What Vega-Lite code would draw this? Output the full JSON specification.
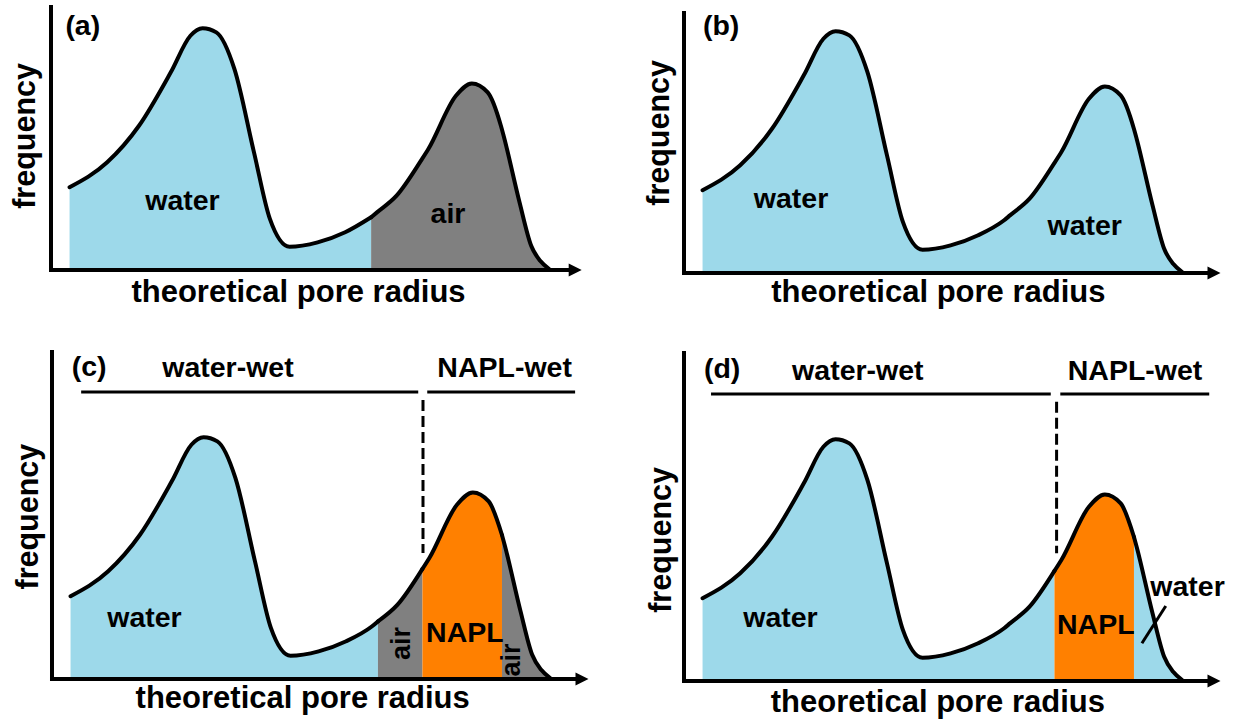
{
"$schema": "https://vega.github.io/schema/vega-lite/v6.json",
"background": "white",
"padding": 0,
"config": {"view": {"stroke": null}, "concat": {"spacing": 0}, "text": {"font": "Liberation Sans", "fontWeight": "bold", "color": "black", "align": "center", "baseline": "alphabetic"}},
"datasets": {
"ca": [
{"r":3.5,"f":34.2,"s":"a1","ph":"water"},{"r":10.6,"f":44.5,"s":"a1","ph":"water"},{"r":16.6,"f":59.6,"s":"a1","ph":"water"},{"r":22.6,"f":81.7,"s":"a1","ph":"water"},{"r":26.3,"f":96.8,"s":"a1","ph":"water"},{"r":28.6,"f":99.9,"s":"a1","ph":"water"},{"r":31.2,"f":98.2,"s":"a1","ph":"water"},{"r":34.6,"f":83.1,"s":"a1","ph":"water"},{"r":38.3,"f":48.6,"s":"a1","ph":"water"},{"r":41.3,"f":21.1,"s":"a1","ph":"water"},{"r":45.0,"f":9.6,"s":"a1","ph":"water"},{"r":50.3,"f":11.4,"s":"a1","ph":"water"},{"r":55.5,"f":15.6,"s":"a1","ph":"water"},{"r":60.4,"f":21.8,"s":"a1","ph":"water"},
{"r":60.4,"f":21.8,"s":"a2","ph":"air"},{"r":61.5,"f":23.8,"s":"a2","ph":"air"},{"r":65.2,"f":30.7,"s":"a2","ph":"air"},{"r":69.9,"f":45.5,"s":"a2","ph":"air"},{"r":71.2,"f":50.0,"s":"a2","ph":"air"},{"r":76.4,"f":72.0,"s":"a2","ph":"air"},{"r":79.4,"f":77.1,"s":"a2","ph":"air"},{"r":82.4,"f":73.4,"s":"a2","ph":"air"},{"r":84.9,"f":59.5,"s":"a2","ph":"air"},{"r":85.4,"f":55.5,"s":"a2","ph":"air"},{"r":88.4,"f":28.0,"s":"a2","ph":"air"},{"r":90.6,"f":10.0,"s":"a2","ph":"air"},{"r":92.3,"f":3.8,"s":"a2","ph":"air"},{"r":94.0,"f":0.4,"s":"a2","ph":"air"}
],
"cb": [
{"r":3.5,"f":34.2,"s":"b1","ph":"water"},{"r":10.6,"f":44.5,"s":"b1","ph":"water"},{"r":16.6,"f":59.6,"s":"b1","ph":"water"},{"r":22.6,"f":81.7,"s":"b1","ph":"water"},{"r":26.3,"f":96.8,"s":"b1","ph":"water"},{"r":28.6,"f":99.9,"s":"b1","ph":"water"},{"r":31.2,"f":98.2,"s":"b1","ph":"water"},{"r":34.6,"f":83.1,"s":"b1","ph":"water"},{"r":38.3,"f":48.6,"s":"b1","ph":"water"},{"r":41.3,"f":21.1,"s":"b1","ph":"water"},{"r":45.0,"f":9.6,"s":"b1","ph":"water"},{"r":50.3,"f":11.4,"s":"b1","ph":"water"},{"r":55.5,"f":15.6,"s":"b1","ph":"water"},{"r":60.4,"f":21.8,"s":"b1","ph":"water"},{"r":61.5,"f":23.8,"s":"b1","ph":"water"},{"r":65.2,"f":30.7,"s":"b1","ph":"water"},{"r":69.9,"f":45.5,"s":"b1","ph":"water"},{"r":71.2,"f":50.0,"s":"b1","ph":"water"},{"r":76.4,"f":72.0,"s":"b1","ph":"water"},{"r":79.4,"f":77.1,"s":"b1","ph":"water"},{"r":82.4,"f":73.4,"s":"b1","ph":"water"},{"r":84.9,"f":59.5,"s":"b1","ph":"water"},{"r":85.4,"f":55.5,"s":"b1","ph":"water"},{"r":88.4,"f":28.0,"s":"b1","ph":"water"},{"r":90.6,"f":10.0,"s":"b1","ph":"water"},{"r":92.3,"f":3.8,"s":"b1","ph":"water"},{"r":94.0,"f":0.4,"s":"b1","ph":"water"}
],
"cc": [
{"r":3.5,"f":34.2,"s":"c1","ph":"water"},{"r":10.6,"f":44.5,"s":"c1","ph":"water"},{"r":16.6,"f":59.6,"s":"c1","ph":"water"},{"r":22.6,"f":81.7,"s":"c1","ph":"water"},{"r":26.3,"f":96.8,"s":"c1","ph":"water"},{"r":28.6,"f":99.9,"s":"c1","ph":"water"},{"r":31.2,"f":98.2,"s":"c1","ph":"water"},{"r":34.6,"f":83.1,"s":"c1","ph":"water"},{"r":38.3,"f":48.6,"s":"c1","ph":"water"},{"r":41.3,"f":21.1,"s":"c1","ph":"water"},{"r":45.0,"f":9.6,"s":"c1","ph":"water"},{"r":50.3,"f":11.4,"s":"c1","ph":"water"},{"r":55.5,"f":15.6,"s":"c1","ph":"water"},{"r":60.4,"f":21.8,"s":"c1","ph":"water"},{"r":61.5,"f":23.8,"s":"c1","ph":"water"},
{"r":61.5,"f":23.8,"s":"c2","ph":"air"},{"r":65.2,"f":30.7,"s":"c2","ph":"air"},{"r":69.9,"f":45.5,"s":"c2","ph":"air"},
{"r":69.9,"f":45.5,"s":"c3","ph":"NAPL"},{"r":71.2,"f":50.0,"s":"c3","ph":"NAPL"},{"r":76.4,"f":72.0,"s":"c3","ph":"NAPL"},{"r":79.4,"f":77.1,"s":"c3","ph":"NAPL"},{"r":82.4,"f":73.4,"s":"c3","ph":"NAPL"},{"r":84.9,"f":59.5,"s":"c3","ph":"NAPL"},
{"r":84.9,"f":59.5,"s":"c4","ph":"air"},{"r":85.4,"f":55.5,"s":"c4","ph":"air"},{"r":88.4,"f":28.0,"s":"c4","ph":"air"},{"r":90.6,"f":10.0,"s":"c4","ph":"air"},{"r":92.3,"f":3.8,"s":"c4","ph":"air"},{"r":94.0,"f":0.4,"s":"c4","ph":"air"}
],
"cd": [
{"r":3.5,"f":34.2,"s":"d1","ph":"water"},{"r":10.6,"f":44.5,"s":"d1","ph":"water"},{"r":16.6,"f":59.6,"s":"d1","ph":"water"},{"r":22.6,"f":81.7,"s":"d1","ph":"water"},{"r":26.3,"f":96.8,"s":"d1","ph":"water"},{"r":28.6,"f":99.9,"s":"d1","ph":"water"},{"r":31.2,"f":98.2,"s":"d1","ph":"water"},{"r":34.6,"f":83.1,"s":"d1","ph":"water"},{"r":38.3,"f":48.6,"s":"d1","ph":"water"},{"r":41.3,"f":21.1,"s":"d1","ph":"water"},{"r":45.0,"f":9.6,"s":"d1","ph":"water"},{"r":50.3,"f":11.4,"s":"d1","ph":"water"},{"r":55.5,"f":15.6,"s":"d1","ph":"water"},{"r":60.4,"f":21.8,"s":"d1","ph":"water"},{"r":61.5,"f":23.8,"s":"d1","ph":"water"},{"r":65.2,"f":30.7,"s":"d1","ph":"water"},{"r":69.9,"f":45.5,"s":"d1","ph":"water"},
{"r":69.9,"f":45.5,"s":"d2","ph":"NAPL"},{"r":71.2,"f":50.0,"s":"d2","ph":"NAPL"},{"r":76.4,"f":72.0,"s":"d2","ph":"NAPL"},{"r":79.4,"f":77.1,"s":"d2","ph":"NAPL"},{"r":82.4,"f":73.4,"s":"d2","ph":"NAPL"},{"r":84.9,"f":59.5,"s":"d2","ph":"NAPL"},
{"r":84.9,"f":59.5,"s":"d3","ph":"water"},{"r":85.4,"f":55.5,"s":"d3","ph":"water"},{"r":88.4,"f":28.0,"s":"d3","ph":"water"},{"r":90.6,"f":10.0,"s":"d3","ph":"water"},{"r":92.3,"f":3.8,"s":"d3","ph":"water"},{"r":94.0,"f":0.4,"s":"d3","ph":"water"}
],
"ax": [
{"p":"a","r":0,"f":0,"r2":0,"f2":108.7},{"p":"a","r":0,"f":0,"r2":98.9,"f2":0},
{"p":"b","r":0,"f":0,"r2":0,"f2":107.4},{"p":"b","r":0,"f":0,"r2":100,"f2":0},
{"p":"c","r":0,"f":0,"r2":0,"f2":135.1},{"p":"c","r":0,"f":0,"r2":100,"f2":0},
{"p":"d","r":0,"f":0,"r2":0,"f2":135.5},{"p":"d","r":0,"f":0,"r2":100,"f2":0}
],
"arrow": [
{"p":"a","r":98.9,"f":0},{"p":"b","r":100,"f":0},{"p":"c","r":100,"f":0},{"p":"d","r":100,"f":0}
],
"bars": [
{"p":"c","r":5.5,"f":118.6,"r2":69.1,"f2":118.6},{"p":"c","r":70.8,"f":118.6,"r2":98.7,"f2":118.6},
{"p":"d","r":5.1,"f":118.6,"r2":69.2,"f2":118.6},{"p":"d","r":71.0,"f":118.6,"r2":99.1,"f2":118.6},
{"p":"d","r":86.4,"f":15.6,"r2":90.9,"f2":31.0}
],
"dash": [
{"p":"c","r":70.0,"f":115.3,"r2":70.0,"f2":52.1},
{"p":"d","r":70.3,"f":115.4,"r2":70.3,"f2":52.8}
],
"labels": [
{"p":"a","r":6.0,"f":97.1,"t":"(a)","k":"tag"},
{"p":"a","r":24.8,"f":24.8,"t":"water","k":"phase"},
{"p":"a","r":74.9,"f":19.4,"t":"air","k":"phase"},
{"p":"a","r":46.7,"f":-13.2,"t":"theoretical pore radius","k":"xt"},
{"p":"a","r":-3.0,"f":55.4,"t":"frequency","k":"yt"},
{"p":"b","r":7.0,"f":98.3,"t":"(b)","k":"tag"},
{"p":"b","r":20.2,"f":26.7,"t":"water","k":"phase"},
{"p":"b","r":75.6,"f":15.7,"t":"water","k":"phase"},
{"p":"b","r":48.0,"f":-11.9,"t":"theoretical pore radius","k":"xt"},
{"p":"b","r":-2.8,"f":57.9,"t":"frequency","k":"yt"},
{"p":"c","r":7.0,"f":125.2,"t":"(c)","k":"tag"},
{"p":"c","r":33.2,"f":124.8,"t":"water-wet","k":"zone"},
{"p":"c","r":85.4,"f":124.8,"t":"NAPL-wet","k":"zone"},
{"p":"c","r":17.45,"f":21.5,"t":"water","k":"phase"},
{"p":"c","r":77.9,"f":15.3,"t":"NAPL","k":"phase"},
{"p":"c","r":67.5,"f":14.7,"t":"air","k":"vphase"},
{"p":"c","r":88.3,"f":7.85,"t":"air","k":"vphase"},
{"p":"c","r":47.3,"f":-12.1,"t":"theoretical pore radius","k":"xt"},
{"p":"c","r":-2.64,"f":67.1,"t":"frequency","k":"yt"},
{"p":"d","r":7.2,"f":125.2,"t":"(d)","k":"tag"},
{"p":"d","r":32.8,"f":124.4,"t":"water-wet","k":"zone"},
{"p":"d","r":85.1,"f":124.4,"t":"NAPL-wet","k":"zone"},
{"p":"d","r":18.2,"f":22.2,"t":"water","k":"phase"},
{"p":"d","r":77.7,"f":19.4,"t":"NAPL","k":"phase"},
{"p":"d","r":95.0,"f":35.1,"t":"water","k":"phase"},
{"p":"d","r":47.9,"f":-12.7,"t":"theoretical pore radius","k":"xt"},
{"p":"d","r":-2.4,"f":58.3,"t":"frequency","k":"yt"}
]
},
"spacing": 0,
"resolve": {"scale": {"x": "independent", "y": "independent"}},
"vconcat": [
{"hconcat": [
{"width": 617, "height": 330,
"encoding": {"x": {"field": "r", "type": "quantitative", "scale": {"domain": [-9.623, 106.792], "nice": false, "zero": false}, "axis": null},
"y": {"field": "f", "type": "quantitative", "stack": null, "scale": {"domain": [-24.793, 111.570], "nice": false, "zero": false}, "axis": null}},
"layer": [
{"data": {"name": "ca"}, "mark": {"type": "area", "interpolate": "monotone"}, "encoding": {"y2": {"datum": 0}, "color": {"field": "ph", "type": "nominal", "scale": {"domain": ["water", "air", "NAPL"], "range": ["#9dd9ea", "#808080", "#ff8000"]}, "legend": null}, "detail": {"field": "s"}}},
{"data": {"name": "ca"}, "mark": {"type": "line", "interpolate": "monotone", "color": "black", "strokeWidth": 4, "strokeCap": "round", "strokeJoin": "round"}, "encoding": {"detail": {"field": "s"}}},
{"data": {"name": "ax"}, "transform": [{"filter": "datum.p == 'a'"}], "mark": {"type": "rule", "color": "black", "strokeWidth": 4, "strokeCap": "square"}, "encoding": {"x2": {"field": "r2"}, "y2": {"field": "f2"}}},
{"data": {"name": "arrow"}, "transform": [{"filter": "datum.p == 'a'"}], "mark": {"type": "point", "shape": "M-1,-1L1,0L-1,1Z", "filled": true, "color": "black", "opacity": 1, "size": 169}},
{"data": {"name": "labels"}, "transform": [{"filter": "datum.p == 'a' && (datum.k == 'tag' || datum.k == 'phase' || datum.k == 'zone')"}], "mark": {"type": "text", "fontSize": 28.5}, "encoding": {"text": {"field": "t"}}},
{"data": {"name": "labels"}, "transform": [{"filter": "datum.p == 'a' && datum.k == 'xt'"}], "mark": {"type": "text", "fontSize": 31}, "encoding": {"text": {"field": "t"}}},
{"data": {"name": "labels"}, "transform": [{"filter": "datum.p == 'a' && datum.k == 'yt'"}], "mark": {"type": "text", "fontSize": 30.5, "angle": 270}, "encoding": {"text": {"field": "t"}}}
]},
{"width": 618, "height": 330,
"encoding": {"x": {"field": "r", "type": "quantitative", "scale": {"domain": [-12.642, 103.962], "nice": false, "zero": false}, "axis": null},
"y": {"field": "f", "type": "quantitative", "stack": null, "scale": {"domain": [-23.554, 112.810], "nice": false, "zero": false}, "axis": null}},
"layer": [
{"data": {"name": "cb"}, "mark": {"type": "area", "interpolate": "monotone"}, "encoding": {"y2": {"datum": 0}, "color": {"field": "ph", "type": "nominal", "scale": {"domain": ["water", "air", "NAPL"], "range": ["#9dd9ea", "#808080", "#ff8000"]}, "legend": null}, "detail": {"field": "s"}}},
{"data": {"name": "cb"}, "mark": {"type": "line", "interpolate": "monotone", "color": "black", "strokeWidth": 4, "strokeCap": "round", "strokeJoin": "round"}, "encoding": {"detail": {"field": "s"}}},
{"data": {"name": "ax"}, "transform": [{"filter": "datum.p == 'b'"}], "mark": {"type": "rule", "color": "black", "strokeWidth": 4, "strokeCap": "square"}, "encoding": {"x2": {"field": "r2"}, "y2": {"field": "f2"}}},
{"data": {"name": "arrow"}, "transform": [{"filter": "datum.p == 'b'"}], "mark": {"type": "point", "shape": "M-1,-1L1,0L-1,1Z", "filled": true, "color": "black", "opacity": 1, "size": 169}},
{"data": {"name": "labels"}, "transform": [{"filter": "datum.p == 'b' && (datum.k == 'tag' || datum.k == 'phase' || datum.k == 'zone')"}], "mark": {"type": "text", "fontSize": 28.5}, "encoding": {"text": {"field": "t"}}},
{"data": {"name": "labels"}, "transform": [{"filter": "datum.p == 'b' && datum.k == 'xt'"}], "mark": {"type": "text", "fontSize": 31}, "encoding": {"text": {"field": "t"}}},
{"data": {"name": "labels"}, "transform": [{"filter": "datum.p == 'b' && datum.k == 'yt'"}], "mark": {"type": "text", "fontSize": 30.5, "angle": 270}, "encoding": {"text": {"field": "t"}}}
]}
], "spacing": 0, "resolve": {"scale": {"x": "independent", "y": "independent"}}},
{"hconcat": [
{"width": 617, "height": 391,
"encoding": {"x": {"field": "r", "type": "quantitative", "scale": {"domain": [-9.811, 106.604], "nice": false, "zero": false}, "axis": null},
"y": {"field": "f", "type": "quantitative", "stack": null, "scale": {"domain": [-17.355, 144.215], "nice": false, "zero": false}, "axis": null}},
"layer": [
{"data": {"name": "cc"}, "mark": {"type": "area", "interpolate": "monotone"}, "encoding": {"y2": {"datum": 0}, "color": {"field": "ph", "type": "nominal", "scale": {"domain": ["water", "air", "NAPL"], "range": ["#9dd9ea", "#808080", "#ff8000"]}, "legend": null}, "detail": {"field": "s"}}},
{"data": {"name": "cc"}, "mark": {"type": "line", "interpolate": "monotone", "color": "black", "strokeWidth": 4, "strokeCap": "round", "strokeJoin": "round"}, "encoding": {"detail": {"field": "s"}}},
{"data": {"name": "ax"}, "transform": [{"filter": "datum.p == 'c'"}], "mark": {"type": "rule", "color": "black", "strokeWidth": 4, "strokeCap": "square"}, "encoding": {"x2": {"field": "r2"}, "y2": {"field": "f2"}}},
{"data": {"name": "arrow"}, "transform": [{"filter": "datum.p == 'c'"}], "mark": {"type": "point", "shape": "M-1,-1L1,0L-1,1Z", "filled": true, "color": "black", "opacity": 1, "size": 169}},
{"data": {"name": "bars"}, "transform": [{"filter": "datum.p == 'c'"}], "mark": {"type": "rule", "color": "black", "strokeWidth": 3}, "encoding": {"x2": {"field": "r2"}, "y2": {"field": "f2"}}},
{"data": {"name": "dash"}, "transform": [{"filter": "datum.p == 'c'"}], "mark": {"type": "rule", "color": "black", "strokeWidth": 3, "strokeDash": [11, 5]}, "encoding": {"x2": {"field": "r2"}, "y2": {"field": "f2"}}},
{"data": {"name": "labels"}, "transform": [{"filter": "datum.p == 'c' && (datum.k == 'tag' || datum.k == 'phase' || datum.k == 'zone')"}], "mark": {"type": "text", "fontSize": 28.5}, "encoding": {"text": {"field": "t"}}},
{"data": {"name": "labels"}, "transform": [{"filter": "datum.p == 'c' && datum.k == 'xt'"}], "mark": {"type": "text", "fontSize": 31}, "encoding": {"text": {"field": "t"}}},
{"data": {"name": "labels"}, "transform": [{"filter": "datum.p == 'c' && datum.k == 'yt'"}], "mark": {"type": "text", "fontSize": 30.5, "angle": 270}, "encoding": {"text": {"field": "t"}}},
{"data": {"name": "labels"}, "transform": [{"filter": "datum.p == 'c' && datum.k == 'vphase'"}], "mark": {"type": "text", "fontSize": 27, "angle": 270}, "encoding": {"text": {"field": "t"}}}
]},
{"width": 618, "height": 391,
"encoding": {"x": {"field": "r", "type": "quantitative", "scale": {"domain": [-12.642, 103.962], "nice": false, "zero": false}, "axis": null},
"y": {"field": "f", "type": "quantitative", "stack": null, "scale": {"domain": [-16.529, 145.041], "nice": false, "zero": false}, "axis": null}},
"layer": [
{"data": {"name": "cd"}, "mark": {"type": "area", "interpolate": "monotone"}, "encoding": {"y2": {"datum": 0}, "color": {"field": "ph", "type": "nominal", "scale": {"domain": ["water", "air", "NAPL"], "range": ["#9dd9ea", "#808080", "#ff8000"]}, "legend": null}, "detail": {"field": "s"}}},
{"data": {"name": "cd"}, "mark": {"type": "line", "interpolate": "monotone", "color": "black", "strokeWidth": 4, "strokeCap": "round", "strokeJoin": "round"}, "encoding": {"detail": {"field": "s"}}},
{"data": {"name": "ax"}, "transform": [{"filter": "datum.p == 'd'"}], "mark": {"type": "rule", "color": "black", "strokeWidth": 4, "strokeCap": "square"}, "encoding": {"x2": {"field": "r2"}, "y2": {"field": "f2"}}},
{"data": {"name": "arrow"}, "transform": [{"filter": "datum.p == 'd'"}], "mark": {"type": "point", "shape": "M-1,-1L1,0L-1,1Z", "filled": true, "color": "black", "opacity": 1, "size": 169}},
{"data": {"name": "bars"}, "transform": [{"filter": "datum.p == 'd'"}], "mark": {"type": "rule", "color": "black", "strokeWidth": 3}, "encoding": {"x2": {"field": "r2"}, "y2": {"field": "f2"}}},
{"data": {"name": "dash"}, "transform": [{"filter": "datum.p == 'd'"}], "mark": {"type": "rule", "color": "black", "strokeWidth": 3, "strokeDash": [11, 5]}, "encoding": {"x2": {"field": "r2"}, "y2": {"field": "f2"}}},
{"data": {"name": "labels"}, "transform": [{"filter": "datum.p == 'd' && (datum.k == 'tag' || datum.k == 'phase' || datum.k == 'zone')"}], "mark": {"type": "text", "fontSize": 28.5}, "encoding": {"text": {"field": "t"}}},
{"data": {"name": "labels"}, "transform": [{"filter": "datum.p == 'd' && datum.k == 'xt'"}], "mark": {"type": "text", "fontSize": 31}, "encoding": {"text": {"field": "t"}}},
{"data": {"name": "labels"}, "transform": [{"filter": "datum.p == 'd' && datum.k == 'yt'"}], "mark": {"type": "text", "fontSize": 30.5, "angle": 270}, "encoding": {"text": {"field": "t"}}}
]}
], "spacing": 0, "resolve": {"scale": {"x": "independent", "y": "independent"}}}
]
}
